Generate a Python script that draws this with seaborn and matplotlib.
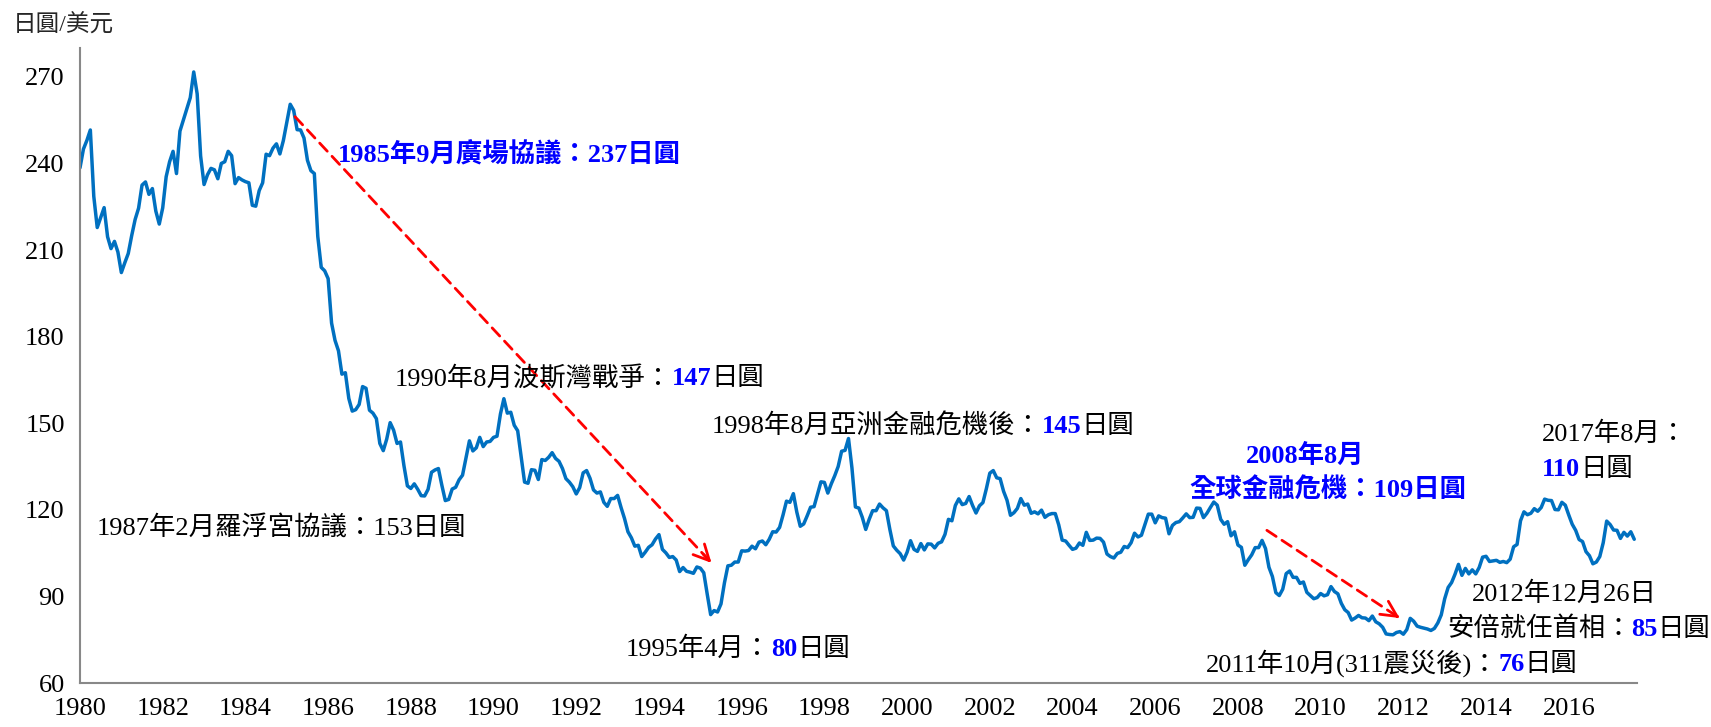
"""日圓兌美元匯率走勢（1980-2017）與重要事件標註。"""
import matplotlib.pyplot as plt
import matplotlib.transforms as mtransforms
import numpy as np
import pandas as pd
import seaborn as sns

sns.set_style("white")
FONTS = ["Liberation Serif", "Noto Sans CJK TC", "DejaVu Sans"]
plt.rcParams["font.family"] = FONTS
plt.rcParams["axes.unicode_minus"] = False

# 月平均匯率（日圓/美元），自 1980 年 1 月起
rate_1980s = [
    238.5, 245.0, 248.0, 251.6, 228.6, 217.8, 221.3, 224.7, 214.6, 210.5, 213.0, 209.3,
    202.2, 205.6, 208.8, 215.0, 220.6, 224.5, 232.5, 233.6, 229.3, 231.3, 223.5, 219.0,
    224.6, 235.4, 240.6, 244.2, 236.5, 251.2, 255.1, 259.0, 262.8, 271.7, 264.1, 242.6,
    232.7, 236.1, 238.3, 237.8, 234.7, 240.0, 240.6, 244.2, 242.7, 233.0, 235.1, 234.3,
    233.7, 233.3, 225.5, 225.2, 230.6, 233.3, 243.2, 242.7, 245.3, 246.8, 243.3, 247.9,
    254.2, 260.5, 258.4, 251.7, 251.6, 248.8, 241.1, 237.5, 236.5, 214.7, 204.0, 202.8,
    200.1, 184.7, 178.7, 175.1, 167.0, 167.5, 158.6, 154.2, 154.7, 156.5, 162.7, 162.1,
    154.5, 153.5, 151.6, 143.0, 140.5, 144.5, 150.2, 147.6, 143.0, 143.5, 135.3, 128.3,
    127.4, 129.0, 127.1, 124.9, 124.8, 127.1, 133.0, 133.8, 134.3, 128.5, 123.2, 123.6,
    127.2, 127.8, 130.4, 132.0, 137.9, 143.9, 140.4, 141.5, 145.1, 141.9, 143.5, 143.7,
]
rate_1990s = [
    145.1, 145.5, 153.2, 158.5, 153.5, 153.8, 149.3, 147.4, 138.4, 129.6, 129.2, 133.9,
    133.7, 130.5, 137.4, 137.1, 138.2, 139.8, 137.8, 136.8, 134.3, 130.8, 129.6, 128.0,
    125.5, 127.7, 132.8, 133.6, 130.9, 126.9, 125.8, 126.2, 122.6, 121.2, 123.9, 123.9,
    125.0, 120.8, 117.0, 112.4, 110.3, 107.4, 107.7, 103.8, 105.3, 107.0, 107.9, 109.9,
    111.4, 106.3, 105.1, 103.5, 103.8, 102.6, 98.6, 100.0, 98.7, 98.4, 98.0, 100.2,
    99.8, 98.2, 90.8, 83.7, 85.1, 84.6, 87.4, 94.7, 100.6, 100.8, 101.9, 101.9,
    105.8, 105.7, 105.9, 107.4, 106.5, 108.8, 109.2, 107.9, 109.8, 112.4, 112.3, 113.9,
    118.2, 123.0, 122.6, 125.6, 119.2, 114.3, 115.1, 117.9, 120.9, 121.1, 125.4, 129.7,
    129.5, 125.8, 129.0, 131.8, 135.0, 140.3, 140.6, 144.7, 134.5, 121.0, 120.6, 117.4,
    113.2, 116.7, 119.7, 119.7, 122.0, 120.7, 119.7, 113.2, 107.5, 106.0, 104.8, 102.6,
]
rate_2000s = [
    105.3, 109.3, 106.3, 105.6, 108.3, 106.1, 108.2, 108.1, 106.8, 108.4, 108.9, 111.5,
    116.7, 116.2, 121.5, 123.8, 121.8, 122.2, 124.6, 121.5, 118.9, 121.4, 122.5, 127.3,
    132.7, 133.6, 131.1, 130.8, 126.4, 123.3, 118.1, 119.0, 120.5, 123.9, 121.6, 122.0,
    118.8, 119.3, 118.6, 119.9, 117.4, 118.3, 118.7, 118.7, 114.8, 109.5, 109.2, 107.7,
    106.3, 106.7, 108.5, 107.7, 112.2, 109.4, 109.5, 110.2, 110.1, 108.8, 104.7, 103.8,
    103.3, 104.9, 105.3, 107.3, 106.9, 108.6, 111.9, 110.6, 111.2, 114.9, 118.5, 118.5,
    115.5, 117.9, 117.3, 117.1, 111.7, 114.6, 115.6, 115.9, 117.2, 118.6, 117.3, 117.4,
    120.6, 120.5, 117.3, 118.8, 120.8, 122.7, 121.6, 116.7, 115.0, 115.9, 111.0, 112.4,
    107.8, 107.0, 100.8, 102.7, 104.4, 106.9, 106.9, 109.4, 106.6, 100.1, 96.9, 91.3,
    90.3, 92.5, 97.9, 98.8, 96.6, 96.6, 94.5, 95.0, 91.4, 90.3, 89.2, 89.6,
]
rate_2010s = [
    91.0, 90.2, 90.6, 93.4, 91.7, 90.9, 87.6, 85.4, 84.4, 81.8, 82.5, 83.4,
    82.6, 82.5, 81.6, 83.2, 81.2, 80.5, 79.3, 77.0, 76.8, 76.7, 77.5, 77.8,
    76.9, 78.5, 82.4, 81.4, 79.7, 79.3, 79.0, 78.7, 78.2, 78.9, 80.8, 83.6,
    89.2, 93.1, 94.8, 97.7, 101.1, 97.3, 99.7, 97.8, 99.2, 97.8, 100.0, 103.6,
    103.9, 102.1, 102.3, 102.5, 101.8, 102.1, 101.7, 102.9, 107.2, 108.0, 116.2, 119.3,
    118.3, 118.8, 120.4, 119.5, 120.8, 123.7, 123.3, 123.2, 120.1, 120.0, 122.6, 121.6,
    118.2, 115.0, 112.9, 109.7, 109.0, 105.5, 104.1, 101.3, 101.9, 103.8, 108.6, 116.1,
    114.9, 113.0, 112.9, 110.1, 112.2, 110.9, 112.4, 109.8,
]

year_ticks = list(range(1980, 2017, 2))
rate_ticks = [60, 90, 120, 150, 180, 210, 240, 270]

BLUE = "#0000FF"
BLACK = "#000000"

# 標註文字：(x, y, 對齊, [(文字, 顏色, 粗細), ...])
annotations = [
    (1986.24, 240.2, "left", [("1985年9月廣場協議：237日圓", BLUE, "bold")]),
    (1987.62, 163.1, "left", [("1990年8月波斯灣戰爭：", BLACK, "normal"), ("147", BLUE, "bold"), ("日圓", BLACK, "normal")]),
    (1980.41, 111.2, "left", [("1987年2月羅浮宮協議：153日圓", BLACK, "normal")]),
    (1995.28, 146.5, "left", [("1998年8月亞洲金融危機後：", BLACK, "normal"), ("145", BLUE, "bold"), ("日圓", BLACK, "normal")]),
    (1993.20, 69.3, "left", [("1995年4月：", BLACK, "normal"), ("80", BLUE, "bold"), ("日圓", BLACK, "normal")]),
    (2009.62, 136.1, "center", [("2008年8月", BLUE, "bold")]),
    (2010.17, 124.0, "center", [("全球金融危機：109日圓", BLUE, "bold")]),
    (2007.22, 64.1, "left", [("2011年10月(311震災後)：", BLACK, "normal"), ("76", BLUE, "bold"), ("日圓", BLACK, "normal")]),
    (2013.66, 88.3, "left", [("2012年12月26日", BLACK, "normal")]),
    (2013.05, 76.2, "left", [("安倍就任首相：", BLACK, "normal"), ("85", BLUE, "bold"), ("日圓", BLACK, "normal")]),
    (2015.35, 144.0, "left", [("2017年8月：", BLACK, "normal")]),
    (2015.35, 131.6, "left", [("110", BLUE, "bold"), ("日圓", BLACK, "normal")]),
]

# 紅色虛線箭頭（起點、終點）
trend_arrows = [
    ((1985.2, 256.2), (1995.27, 101.6)),
    ((2008.7, 112.9), (2011.91, 82.5)),
]


def draw_rich_text(ax, x, y, parts, ha="left", size=19):
    """將多段不同顏色/粗細的文字依序接在同一基線上。"""
    fig = ax.figure
    renderer = fig.canvas.get_renderer()
    widths = []
    for s, color, weight in parts:
        t = fig.text(0, 0, s, fontsize=size, fontweight=weight, family=FONTS)
        widths.append(t.get_window_extent(renderer).width)
        t.remove()
    offset = -sum(widths) / 2 if ha == "center" else 0
    for (s, color, weight), w in zip(parts, widths):
        trans = mtransforms.offset_copy(ax.transData, fig=fig, x=offset, y=0, units="dots")
        ax.text(x, y, s, color=color, fontsize=size, fontweight=weight, family=FONTS,
                ha="left", va="baseline", transform=trans, clip_on=False)
        offset += w


def main():
    months = pd.date_range("1980-01-01", periods=len(rate_1980s) + len(rate_1990s) + len(rate_2000s) + len(rate_2010s), freq="MS")
    df = pd.DataFrame({
        "year": months.year + (months.month - 1) / 12,
        "rate": np.concatenate([rate_1980s, rate_1990s, rate_2000s, rate_2010s]),
    })

    fig = plt.figure(figsize=(17.11, 7.27), dpi=100)
    ax = fig.add_axes([80 / 1711, 44 / 727, 1557 / 1711, 635 / 727])
    sns.lineplot(data=df, x="year", y="rate", color="#0070C0", linewidth=2.5, ax=ax)

    ax.set_xlim(1980, 2017.65)
    ax.set_ylim(60, 280)
    ax.set_xticks(year_ticks)
    ax.set_yticks(rate_ticks)
    ax.set_xticklabels([str(v) for v in year_ticks])
    ax.set_yticklabels([str(v) for v in rate_ticks])
    ax.set_xlabel("")
    ax.set_ylabel("")
    ax.tick_params(axis="both", direction="out", length=7, width=1.3, color="#888888",
                   labelsize=19, labelcolor="black", pad=4)
    for side in ["top", "right"]:
        ax.spines[side].set_visible(False)
    for side in ["left", "bottom"]:
        ax.spines[side].set_color("#888888")
        ax.spines[side].set_linewidth(1.5)

    fig.text(13 / 1711, 1 - 25 / 727, "日圓/美元", fontsize=17, va="center", ha="left", family=FONTS)

    for start, end in trend_arrows:
        ax.annotate("", xy=end, xytext=start,
                    arrowprops=dict(arrowstyle="-", color="red", lw=2, linestyle=(0, (4, 2.5)),
                                    shrinkA=0, shrinkB=0))
        near = (end[0] - 0.02 * (end[0] - start[0]), end[1] - 0.02 * (end[1] - start[1]))
        ax.annotate("", xy=end, xytext=near,
                    arrowprops=dict(arrowstyle="->", color="red", lw=2, mutation_scale=28,
                                    shrinkA=0, shrinkB=0))

    for x, y, ha, parts in annotations:
        draw_rich_text(ax, x, y, parts, ha=ha)

    fig.savefig("out.png", dpi=100)
    plt.close(fig)


if __name__ == "__main__":
    main()
